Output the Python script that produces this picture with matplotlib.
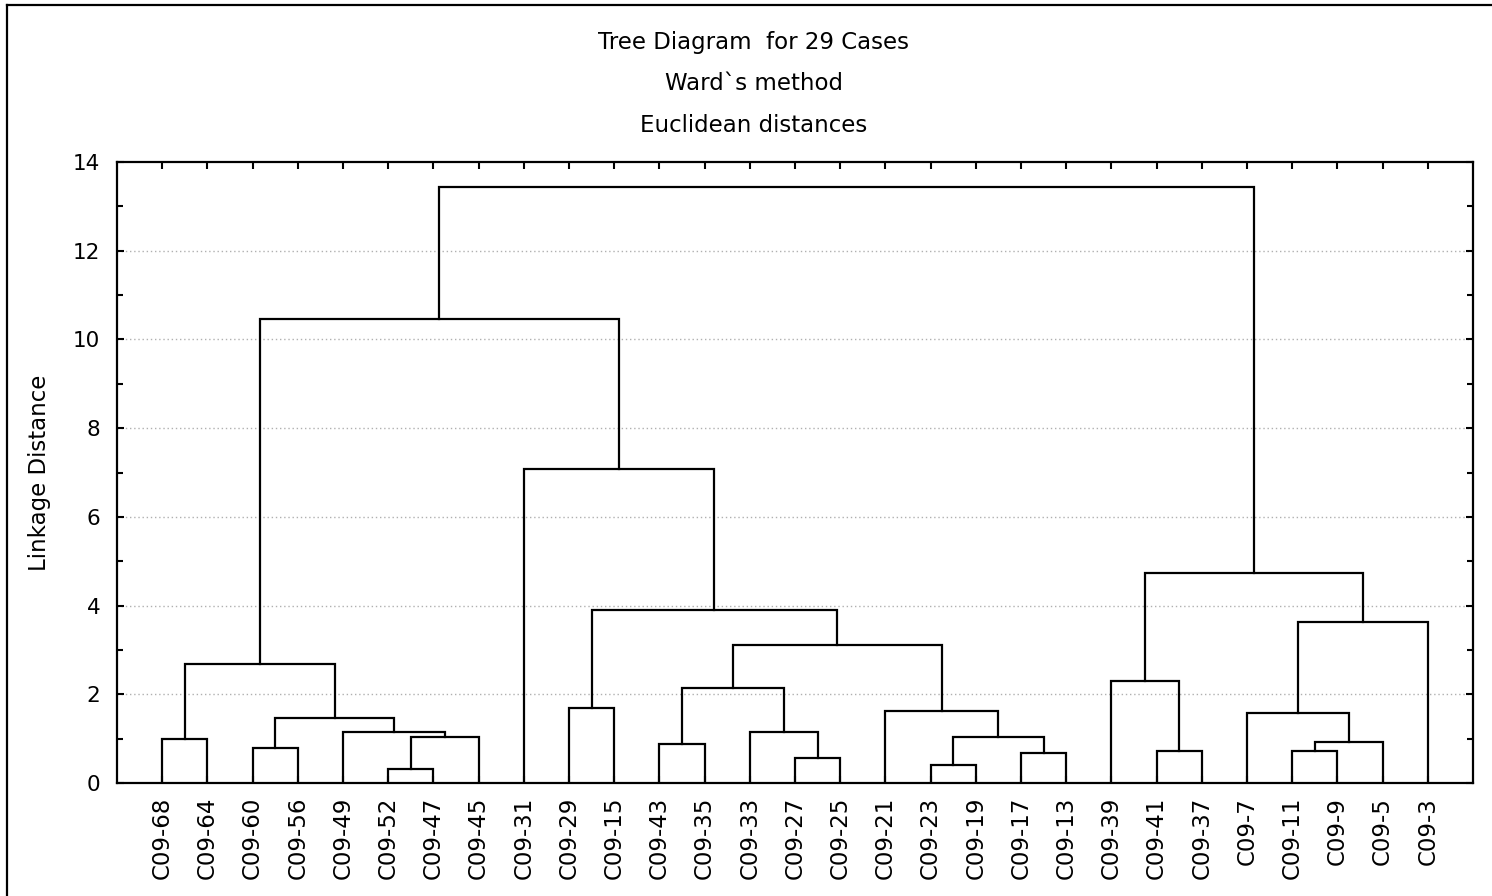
import matplotlib.pyplot as plt
from matplotlib.lines import Line2D
from matplotlib.ticker import MultipleLocator

# leaf order as drawn, left to right
leaves = ['C09-68', 'C09-64', 'C09-60', 'C09-56', 'C09-49', 'C09-52', 'C09-47',
          'C09-45', 'C09-31', 'C09-29', 'C09-15', 'C09-43', 'C09-35', 'C09-33',
          'C09-27', 'C09-25', 'C09-21', 'C09-23', 'C09-19', 'C09-17', 'C09-13',
          'C09-39', 'C09-41', 'C09-37', 'C09-7', 'C09-11', 'C09-9', 'C09-5', 'C09-3']

# merges: ids < 29 are leaves, id 29+k is the k-th merge (scipy style)
merge_a = [5, 17, 14, 19, 22, 25, 2, 11, 34, 0, 29, 30, 13, 4,
           35, 24, 16, 9, 36, 21, 38, 47, 44, 46, 48, 8, 49, 55]
merge_b = [6, 18, 15, 20, 23, 26, 3, 12, 27, 1, 7, 32, 31, 39,
           42, 37, 40, 10, 41, 33, 43, 45, 28, 50, 51, 52, 54, 53]
merge_h = [0.31, 0.41, 0.56, 0.67, 0.73, 0.73, 0.78, 0.88, 0.93, 0.99, 1.04, 1.04, 1.14, 1.15,
           1.46, 1.57, 1.63, 1.68, 2.15, 2.31, 2.69, 3.11, 3.64, 3.89, 4.74, 7.08, 10.46, 13.44]

plt.rcParams['font.family'] = 'DejaVu Sans'

fig = plt.figure(figsize=(14.92, 8.96), dpi=100)
ax = fig.add_axes([117 / 1492, 1 - 783 / 896, (1473 - 117) / 1492, (783 - 162) / 896])

n = len(leaves)
xpos = {i: i + 1 for i in range(n)}
hgt = {i: 0.0 for i in range(n)}
for k, (a, b, h) in enumerate(zip(merge_a, merge_b, merge_h)):
    xa, xb = xpos[a], xpos[b]
    ax.plot([xa, xa, xb, xb], [hgt[a], h, h, hgt[b]], color='black', lw=1.6,
            solid_joinstyle='miter', zorder=3)
    xpos[n + k] = (xa + xb) / 2
    hgt[n + k] = h

ax.set_xlim(0, n + 1)
ax.set_ylim(0, 14)
ax.set_xticks(range(1, n + 1))
ax.set_xticklabels(leaves, rotation=90, fontsize=16.5)
ax.yaxis.set_major_locator(MultipleLocator(2))
ax.yaxis.set_minor_locator(MultipleLocator(1))
ax.tick_params(axis='both', which='both', direction='in', top=True, right=True,
               width=1.5, color='black')
ax.tick_params(axis='both', which='major', length=5)
ax.tick_params(axis='y', which='minor', length=4)
ax.tick_params(axis='x', pad=10)
ax.tick_params(axis='y', labelsize=15.5, pad=12)

for y in range(2, 14, 2):
    ax.axhline(y, color='#b0b0b0', lw=1.0, ls=(0, (1, 2)), zorder=1)

for s in ax.spines.values():
    s.set_linewidth(1.6)

ax.set_ylabel('Linkage Distance', fontsize=16.5)
ax.yaxis.set_label_coords(-(117 - 51) / 1356, 0.5)

tx = 754 / 1492
fig.text(tx, 1 - 43 / 896, 'Tree Diagram  for 29 Cases', ha='center', va='center', fontsize=16.5)
fig.text(tx, 1 - 84 / 896, 'Ward`s method', ha='center', va='center', fontsize=16.5)
fig.text(tx, 1 - 125 / 896, 'Euclidean distances', ha='center', va='center', fontsize=16.5)

# outer frame of the graph window
fig.add_artist(Line2D([7 / 1492, 7 / 1492], [0, 1 - 5 / 896], color='black', lw=1.6))
fig.add_artist(Line2D([7 / 1492, 1], [1 - 5 / 896, 1 - 5 / 896], color='black', lw=1.6))

fig.savefig('out.png', dpi=100)
